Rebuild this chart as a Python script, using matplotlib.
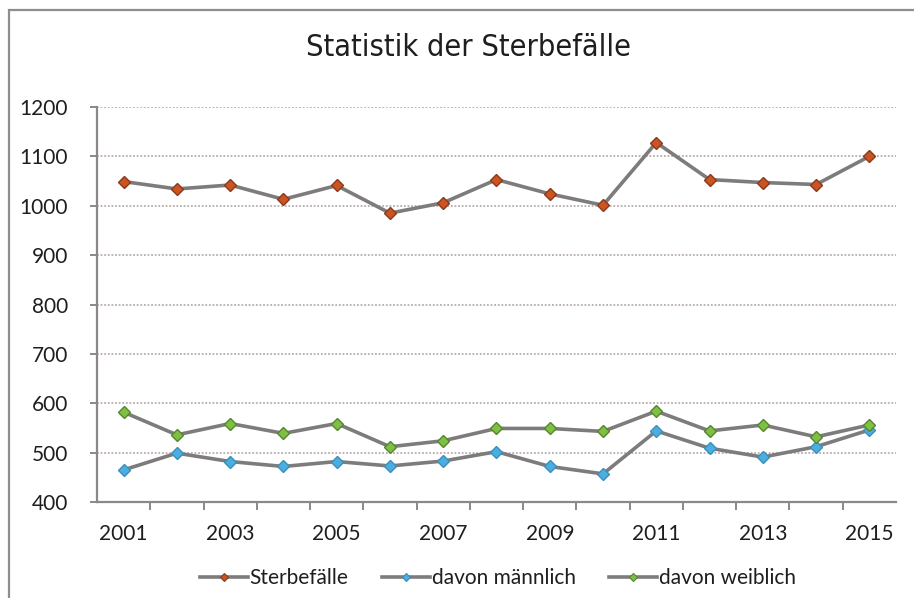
import matplotlib
matplotlib.use("Agg")
import matplotlib.pyplot as plt
from matplotlib.lines import Line2D
from matplotlib.patches import Rectangle

years = list(range(2001, 2016))
sterbefaelle = [1049, 1034, 1042, 1013, 1041, 985, 1006, 1053, 1024, 1001, 1128, 1053, 1047, 1043, 1100]
maennlich = [465, 499, 482, 472, 482, 473, 483, 502, 472, 457, 544, 509, 491, 512, 546]
weiblich = [582, 536, 559, 539, 559, 512, 524, 549, 549, 543, 584, 544, 556, 532, 556]

series_names = ["Sterbefälle", "davon männlich", "davon weiblich"]
face_colors = ["#cc5422", "#4aaee0", "#7fbf45"]
edge_colors = ["#8a3a1c", "#3d8fb8", "#55862e"]

line_gray = "#7d7b7b"
text_col = "#1e1e1e"

fig = plt.figure(figsize=(9.14, 5.98), dpi=100)
ax = fig.add_axes([0.1061, 0.1605, 0.8742, 0.6606])

# outer frame of the chart box
fig.patches.append(Rectangle((9 / 914, -0.05), 1.2, 1 - 10 / 598 + 0.05,
                             transform=fig.transFigure, fill=False,
                             edgecolor="#8e8e8e", linewidth=1.6))

for vals, fc, ec in zip([sterbefaelle, maennlich, weiblich], face_colors, edge_colors):
    ax.plot(years, vals, color=line_gray, linewidth=2.6, marker="D", markersize=6.5,
            markerfacecolor=fc, markeredgecolor=ec, markeredgewidth=1.0, zorder=3)

ax.set_xlim(2000.5, 2015.5)
ax.set_ylim(400, 1200)
ax.set_yticks(range(400, 1201, 100))
ax.set_xticks(years[::2])
ax.set_xticks([y + 0.5 for y in years[:-1]], minor=True)

ax.yaxis.grid(True, linestyle=(0, (1, 1)), color="#b8acac", linewidth=1.3)
ax.set_axisbelow(True)

for s in ["top", "right"]:
    ax.spines[s].set_visible(False)
for s in ["left", "bottom"]:
    ax.spines[s].set_color("#8c8888")
    ax.spines[s].set_linewidth(1.6)

ax.tick_params(axis="y", direction="out", length=5, width=1.4, color="#8c8888",
               pad=16, labelcolor=text_col)
ax.tick_params(axis="x", which="major", length=0, pad=16, labelcolor=text_col)
ax.tick_params(axis="x", which="minor", direction="out", length=6, width=1.4, color="#8c8888")
for lab in ax.get_xticklabels() + ax.get_yticklabels():
    lab.set_fontfamily(["Lato", "DejaVu Sans"])
    lab.set_fontsize(15)

fig.text(468 / 914, 1 - 47 / 598, "Statistik der Sterbefälle",
         ha="center", va="center", fontsize=22, color=text_col,
         family=["DejaVu Sans"], fontstretch="condensed")

handles = [Line2D([], [], color=line_gray, linewidth=2.6, marker="D", markersize=4.5,
                  markerfacecolor=fc, markeredgecolor=ec, markeredgewidth=0.8)
           for fc, ec in zip(face_colors, edge_colors)]
leg = fig.legend(handles, series_names, loc="center", bbox_to_anchor=(498 / 914, 1 - 578 / 598),
                 ncol=3, frameon=False, handlelength=2.3, handletextpad=0.1,
                 columnspacing=1.6, prop={"family": ["Lato", "DejaVu Sans"], "size": 15})
for t in leg.get_texts():
    t.set_color(text_col)

fig.savefig("out.png", dpi=100, facecolor="white")
